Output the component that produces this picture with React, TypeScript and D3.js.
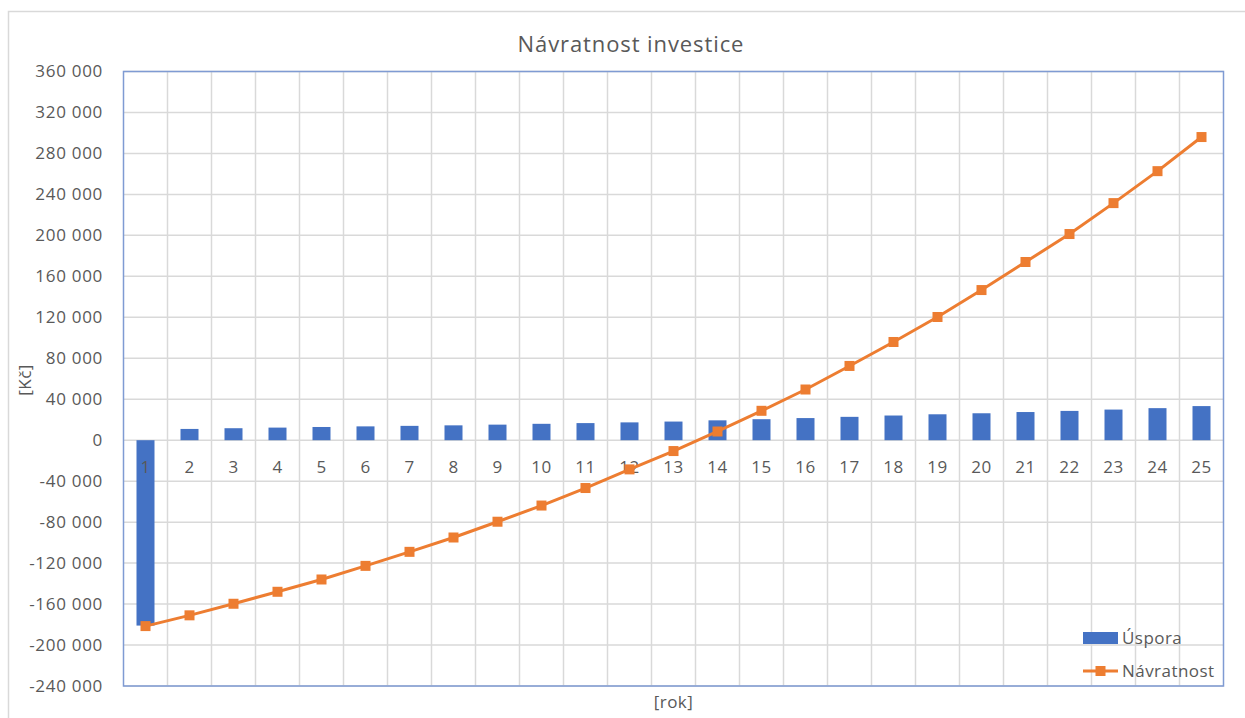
import React, { useRef, useEffect } from 'react';
import * as d3 from 'd3';

// roky (kategorie osy x)
const years = ['1', '2', '3', '4', '5', '6', '7', '8', '9', '10', '11', '12', '13',
  '14', '15', '16', '17', '18', '19', '20', '21', '22', '23', '24', '25'];

// roční úspora [Kč]
const uspora = [-181000, 11000, 11700, 12300, 12900, 13500, 14000, 14500, 15200, 16000,
  16700, 17400, 18200, 19400, 20500, 21600, 22800, 24100, 25300, 26300,
  27500, 28600, 29900, 31300, 33300];

// kumulovaná návratnost [Kč]
const navratnost = [-181500, -171000, -159700, -148000, -136000, -122700, -109000, -95000,
  -79600, -63800, -46700, -28500, -10600, 8500, 28700, 49500, 72500, 95900,
  120300, 146600, 174000, 201300, 231500, 262700, 296000];

const yTicks = d3.range(-240000, 360001, 40000);

const BLUE = '#4472C4';
const ORANGE = '#ED7D31';
const TEXT = '#595959';
const GRID = '#D9D9D9';
const FONT = '"Open Sans", "Noto Sans", sans-serif';

const App = () => {
  const svgRef = useRef<SVGSVGElement>(null);

  useEffect(() => {
    const width = 1245;
    const height = 718;
    const margin = { top: 71.5, right: 21.5, bottom: 32, left: 123.5 };

    const svg = d3.select(svgRef.current);
    svg.selectAll('*').remove();

    const x = d3.scaleBand()
      .domain(years)
      .range([margin.left, width - margin.right])
      .paddingInner(0)
      .paddingOuter(0);

    const y = d3.scaleLinear()
      .domain([-240000, 360000])
      .range([height - margin.bottom, margin.top]);

    const fmt = d3.formatLocale({
      decimal: ',', thousands: '\u00a0', grouping: [3], currency: ['', ''], minus: '-',
    }).format(',');

    const label = (sel: any, size: number, spacing: number) =>
      sel.attr('font-family', FONT)
        .attr('font-size', size)
        .attr('letter-spacing', spacing)
        .attr('fill', TEXT);

    // outer frame
    svg.append('rect')
      .attr('x', 8.5).attr('y', 11.5)
      .attr('width', 1270).attr('height', 730)
      .attr('fill', 'white').attr('stroke', GRID).attr('stroke-width', 1.5);

    // title
    svg.append('text')
      .attr('x', 631).attr('y', 52)
      .attr('text-anchor', 'middle')
      .call(label, 22, 0.9)
      .text('Návratnost investice');

    const plotL = margin.left;
    const plotR = width - margin.right;
    const plotT = y(360000);
    const plotB = y(-240000);

    // horizontal grid
    svg.append('g')
      .selectAll('line')
      .data(yTicks)
      .enter()
      .append('line')
      .attr('x1', plotL).attr('x2', plotR)
      .attr('y1', d => y(d)).attr('y2', d => y(d))
      .attr('stroke', GRID).attr('stroke-width', 1.5);

    // vertical grid at category boundaries
    svg.append('g')
      .selectAll('line')
      .data(years.slice(1))
      .enter()
      .append('line')
      .attr('x1', d => x(d)!).attr('x2', d => x(d)!)
      .attr('y1', plotT).attr('y2', plotB)
      .attr('stroke', GRID).attr('stroke-width', 1.5);

    // y tick labels
    svg.append('g')
      .selectAll('text')
      .data(yTicks)
      .enter()
      .append('text')
      .attr('x', 103)
      .attr('y', d => y(d))
      .attr('dy', '0.35em')
      .attr('text-anchor', 'end')
      .call(label, 17, 0.7)
      .text(d => fmt(d));

    // bars
    const barW = 18;
    svg.append('g')
      .selectAll('rect')
      .data(uspora)
      .enter()
      .append('rect')
      .attr('x', (d, i) => x(years[i])! + x.bandwidth() / 2 - barW / 2)
      .attr('y', d => y(Math.max(0, d)))
      .attr('width', barW)
      .attr('height', d => Math.abs(y(d) - y(0)))
      .attr('fill', BLUE);

    // category labels (axis crosses at 0)
    svg.append('g')
      .selectAll('text')
      .data(years)
      .enter()
      .append('text')
      .attr('x', d => x(d)! + x.bandwidth() / 2)
      .attr('y', y(0) + 33)
      .attr('text-anchor', 'middle')
      .call(label, 17, 0.5)
      .text(d => d);

    // line
    const line = d3.line<number>()
      .x((d, i) => x(years[i])! + x.bandwidth() / 2)
      .y(d => y(d));

    svg.append('path')
      .datum(navratnost)
      .attr('d', line)
      .attr('fill', 'none')
      .attr('stroke', ORANGE)
      .attr('stroke-width', 3)
      .attr('stroke-linejoin', 'round');

    const mk = 10;
    svg.append('g')
      .selectAll('rect')
      .data(navratnost)
      .enter()
      .append('rect')
      .attr('x', (d, i) => x(years[i])! + x.bandwidth() / 2 - mk / 2)
      .attr('y', d => y(d) - mk / 2)
      .attr('width', mk).attr('height', mk)
      .attr('fill', ORANGE);

    // plot border
    svg.append('rect')
      .attr('x', plotL).attr('y', plotT)
      .attr('width', plotR - plotL).attr('height', plotB - plotT)
      .attr('fill', 'none').attr('stroke', '#7F9BD3').attr('stroke-width', 1.5);

    // axis titles
    svg.append('text')
      .attr('transform', 'translate(31,380) rotate(-90)')
      .attr('text-anchor', 'middle')
      .call(label, 17, 0.5)
      .text('[Kč]');

    svg.append('text')
      .attr('x', (plotL + plotR) / 2).attr('y', 708)
      .attr('text-anchor', 'middle')
      .call(label, 17, 0.5)
      .text('[rok]');

    // legend
    const lg = svg.append('g');
    lg.append('rect')
      .attr('x', 1083).attr('y', 632).attr('width', 35).attr('height', 12)
      .attr('fill', BLUE);
    lg.append('text')
      .attr('x', 1122).attr('y', 644)
      .call(label, 17, 0.45)
      .text('Úspora');
    lg.append('line')
      .attr('x1', 1083).attr('x2', 1118).attr('y1', 671).attr('y2', 671)
      .attr('stroke', ORANGE).attr('stroke-width', 3);
    lg.append('rect')
      .attr('x', 1095.5).attr('y', 666).attr('width', mk).attr('height', mk)
      .attr('fill', ORANGE);
    lg.append('text')
      .attr('x', 1122).attr('y', 677)
      .call(label, 17, 0.45)
      .text('Návratnost');
  }, []);

  return (
    <svg
      ref={svgRef}
      width={1245}
      height={718}
      style={{ position: 'absolute', left: 0, top: 0, background: 'white' }}
    />
  );
};

export default App;
